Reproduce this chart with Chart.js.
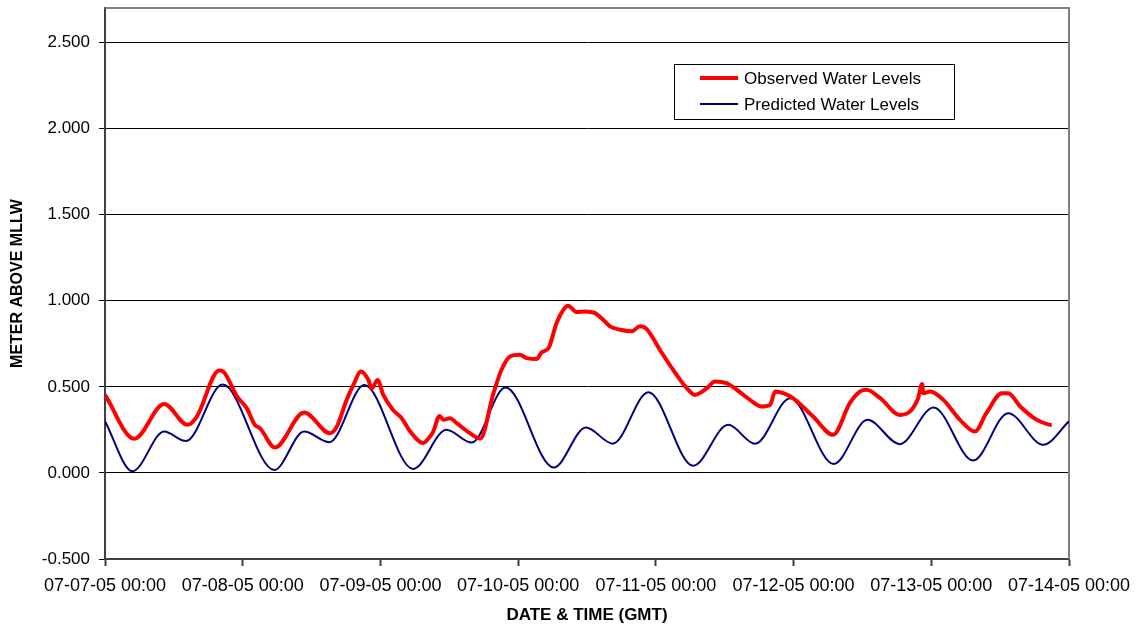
<!DOCTYPE html>
<html>
<head>
<meta charset="utf-8">
<script src="https://cdn.jsdelivr.net/npm/chart.js@4.4.1/dist/chart.umd.min.js"></script>
<style>
  html, body { margin: 0; padding: 0; background: #fff; }
  canvas { display: block; }
</style>
</head>
<body>
<canvas id="c" width="1142" height="626"></canvas>
<script>
// ---- Data (hours since 07-07-05 00:00 GMT, meters above MLLW) ----
const dayLabels = ['07-07-05 00:00','07-08-05 00:00','07-09-05 00:00','07-10-05 00:00',
                   '07-11-05 00:00','07-12-05 00:00','07-13-05 00:00','07-14-05 00:00'];

const predHours  = [0, 4.8, 10.3, 14.1, 20.5, 29.5, 34.7, 39.1, 45.2, 53.7, 59.5, 63.9, 69.8,
                    78.2, 83.8, 88.5, 94.7, 102.5, 108.6, 113.3, 119.4, 127.0, 132.9, 138.5,
                    144.4, 151.3, 157.4, 163.5, 168];
const predValues = [0.30, 0.01, 0.24, 0.185, 0.513, 0.017, 0.24, 0.178, 0.51, 0.023, 0.25, 0.176, 0.496,
                    0.031, 0.263, 0.17, 0.469, 0.041, 0.279, 0.169, 0.434, 0.052, 0.308, 0.167,
                    0.38, 0.072, 0.347, 0.163, 0.30];

const obsHours  = [0, 5.1, 10.3, 14.4, 16.0, 19.9, 20.6, 23.0, 24.7, 26.1, 27.0, 29.6, 34.7, 39.2,
                   40.4, 42.1, 43.3, 44.6, 45.9, 46.5, 47.5, 48.5, 50.2, 51.7, 53.2, 55.5, 56.1,
                   57.2, 58.3, 59.0, 60.1, 61.3, 63.6, 65.4, 67.7, 69.1, 70.6, 72.3, 73.5, 75.2,
                   76.1, 77.3, 78.7, 79.9, 80.7, 82.2, 83.7, 85.4, 86.8, 88.0, 89.8, 91.8, 93.2,
                   94.4, 96.7, 99.0, 101.4, 102.8, 104.9, 106.3, 108.3, 110.1, 112.4, 114.4, 115.9,
                   116.8, 118.2, 119.9, 123.4, 126.9, 129.8, 131.6, 132.7, 135.1, 138.5, 140.3,
                   141.7, 142.4, 142.6, 143.8, 146.1, 149.0, 151.6, 153.6, 156.3, 157.4, 159.5,
                   162.4, 164.7, 165.0];
const obsValues = [0.453, 0.198, 0.40, 0.279, 0.327, 0.595, 0.589, 0.444, 0.376, 0.279, 0.26, 0.147,
                   0.351, 0.231, 0.269, 0.424, 0.512, 0.589, 0.54, 0.49, 0.54, 0.453, 0.366, 0.318,
                   0.24, 0.173, 0.19, 0.24, 0.331, 0.308, 0.318, 0.289, 0.231, 0.20, 0.463, 0.599,
                   0.676, 0.686, 0.667, 0.661, 0.70, 0.725, 0.87, 0.948, 0.971, 0.934, 0.938, 0.928,
                   0.89, 0.851, 0.831, 0.822, 0.851, 0.835, 0.715, 0.599, 0.492, 0.453, 0.492, 0.531,
                   0.521, 0.483, 0.424, 0.386, 0.395, 0.473, 0.463, 0.434, 0.327, 0.221, 0.405, 0.473,
                   0.483, 0.434, 0.337, 0.357, 0.434, 0.517, 0.463, 0.473, 0.424, 0.308, 0.24, 0.347,
                   0.463, 0.463, 0.386, 0.308, 0.279, 0.278];

const seriesNames = ['Observed Water Levels', 'Predicted Water Levels'];
const seriesColors = ['#FF0000', '#000080'];

const toXY = (xs, ys) => xs.map((x, i) => ({ x: x, y: ys[i] }));

const FONT = '"Liberation Sans", Arial, sans-serif';

const framePlugin = {
  id: 'frame',
  beforeDatasetsDraw(chart) {
    const { ctx, chartArea: a } = chart;
    ctx.save();
    ctx.strokeStyle = '#808080';
    ctx.lineWidth = 2;
    ctx.beginPath();
    ctx.moveTo(a.left, a.top);
    ctx.lineTo(a.right, a.top);
    ctx.lineTo(a.right, a.bottom);
    ctx.stroke();
    ctx.restore();
  }
};

const legendPlugin = {
  id: 'boxLegend',
  afterDraw(chart) {
    const { ctx } = chart;
    const bx = 674, by = 64, bw = 280, bh = 55;
    ctx.save();
    ctx.fillStyle = '#fff';
    ctx.fillRect(bx, by, bw, bh);
    ctx.strokeStyle = '#000';
    ctx.lineWidth = 1;
    ctx.strokeRect(bx + 0.5, by + 0.5, bw, bh);
    const rows = [{ y: by + 14, w: 4 }, { y: by + 40, w: 2 }];
    ctx.font = '17px ' + FONT;
    ctx.textBaseline = 'middle';
    ctx.fillStyle = '#000';
    rows.forEach((r, i) => {
      ctx.strokeStyle = seriesColors[i];
      ctx.lineWidth = r.w;
      ctx.beginPath();
      ctx.moveTo(bx + 26, r.y);
      ctx.lineTo(bx + 64, r.y);
      ctx.stroke();
      ctx.fillText(seriesNames[i], bx + 70, r.y + 1);
    });
    ctx.restore();
  }
};

new Chart(document.getElementById('c'), {
  type: 'line',
  data: {
    datasets: [
      {
        label: seriesNames[0],
        data: toXY(obsHours, obsValues),
        borderColor: seriesColors[0],
        borderWidth: 4,
        pointRadius: 0,
        cubicInterpolationMode: 'monotone',
        fill: false,
        order: 1
      },
      {
        label: seriesNames[1],
        data: toXY(predHours, predValues),
        borderColor: seriesColors[1],
        borderWidth: 2,
        pointRadius: 0,
        cubicInterpolationMode: 'monotone',
        fill: false,
        order: 2
      }
    ]
  },
  options: {
    responsive: false,
    animation: false,
    layout: { padding: { left: 0, top: 8, right: 73, bottom: 0 } },
    plugins: {
      legend: { display: false },
      tooltip: { enabled: false }
    },
    scales: {
      x: {
        type: 'linear',
        min: 0,
        max: 168,
        afterFit(scale) { scale.height = 67; scale.paddingLeft = 0; scale.paddingRight = 0; },
        ticks: {
          stepSize: 24,
          autoSkip: false,
          maxRotation: 0,
          padding: 9,
          color: '#000',
          font: { family: FONT, size: 18 },
          callback: (v) => dayLabels[Math.round(v / 24)] || ''
        },
        grid: {
          drawOnChartArea: false,
          drawTicks: true,
          tickLength: 7,
          tickColor: '#404040',
          tickWidth: 2
        },
        border: { display: true, color: '#404040', width: 2 },
        title: {
          display: true,
          text: 'DATE & TIME (GMT)',
          color: '#000',
          font: { family: FONT, size: 17, weight: 'bold' },
          padding: { top: 2, bottom: 0 }
        }
      },
      y: {
        type: 'linear',
        min: -0.5,
        max: 2.7,
        afterFit(scale) { scale.width = 105; scale.paddingTop = 0; scale.paddingBottom = 0; },
        afterBuildTicks(scale) {
          scale.ticks = scale.ticks.filter(t => t.value <= 2.5 + 1e-9);
        },
        ticks: {
          stepSize: 0.5,
          padding: 9,
          color: '#000',
          font: { family: FONT, size: 17 },
          callback: (v) => Number(v).toFixed(3)
        },
        grid: {
          color: '#000',
          lineWidth: 1,
          drawTicks: true,
          tickLength: 6,
          tickColor: '#000'
        },
        border: { display: true, color: '#404040', width: 2 },
        title: {
          display: true,
          text: 'METER ABOVE MLLW',
          color: '#000',
          font: { family: FONT, size: 16, weight: 'bold' },
          padding: { top: 8, bottom: 0 }
        }
      }
    }
  },
  plugins: [framePlugin, legendPlugin]
});
</script>
</body>
</html>
